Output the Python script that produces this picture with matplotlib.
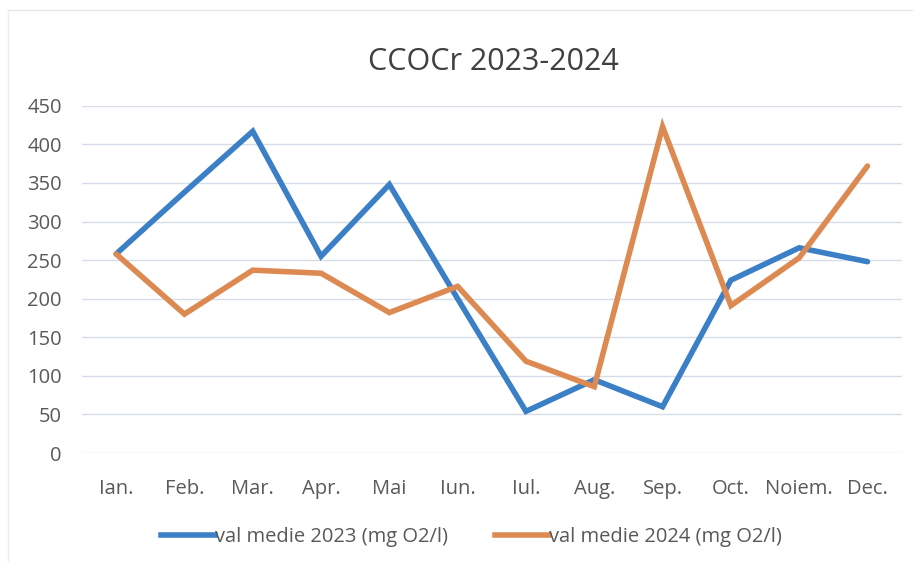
import matplotlib
matplotlib.use("Agg")
import matplotlib.pyplot as plt
from matplotlib.lines import Line2D

months = ["Ian.", "Feb.", "Mar.", "Apr.", "Mai", "Iun.", "Iul.", "Aug.", "Sep.", "Oct.", "Noiem.", "Dec."]
val_2023 = [258, 338, 417, 255, 348, 200, 54, 95, 60, 224, 266, 248]
val_2024 = [258, 180, 237, 233, 182, 216, 119, 86, 423, 191, 253, 372]
yticks = [0, 50, 100, 150, 200, 250, 300, 350, 400, 450]

label_2023 = "val medie 2023 (mg O2/l)"
label_2024 = "val medie 2024 (mg O2/l)"

plt.rcParams["font.family"] = ["Open Sans", "DejaVu Sans"]
text_color = "#595959"
blue = "#3b7fc6"
orange = "#dd8a52"

fig = plt.figure(figsize=(9.21, 5.72), dpi=100)
fig.patch.set_facecolor("white")

ax = fig.add_axes([0.089, 0.208, 0.890, 0.607])
x = list(range(len(months)))
ax.plot(x, val_2023, color=blue, lw=4, solid_joinstyle="miter", solid_capstyle="round", zorder=3)
ax.plot(x, val_2024, color=orange, lw=4, solid_joinstyle="miter", solid_capstyle="round", zorder=3)

ax.set_xlim(-0.5, len(months) - 0.5)
ax.set_ylim(0, 450)
ax.set_yticks(yticks)
ax.set_xticks(x)
ax.set_xticklabels(months)
ax.tick_params(axis="both", length=0, labelsize=14.5, labelcolor=text_color)
ax.tick_params(axis="x", pad=19)
ax.tick_params(axis="y", pad=14.4)
ax.grid(axis="y", color="#d6dde8", lw=1)
ax.set_axisbelow(True)
for s in ax.spines.values():
    s.set_visible(False)

fig.text(0.536, 0.892, "CCOCr 2023-2024", ha="center", va="center", fontsize=22, color="#404040")

handles = [Line2D([0], [0], color=blue, lw=4), Line2D([0], [0], color=orange, lw=4)]
fig.legend(handles, [label_2023, label_2024], loc="center", bbox_to_anchor=(0.512, 0.061),
           ncol=2, frameon=False, fontsize=14.5, handlelength=2.7, handletextpad=0.0,
           columnspacing=2.3, labelcolor=text_color)

# faint chart border (top and left)
fig.add_artist(Line2D([0.009, 0.99], [0.982, 0.982], transform=fig.transFigure, color="#e4e6ea", lw=1))
fig.add_artist(Line2D([0.009, 0.009], [0.02, 0.982], transform=fig.transFigure, color="#eceef0", lw=1))

fig.savefig("out.png", dpi=100, facecolor="white")
